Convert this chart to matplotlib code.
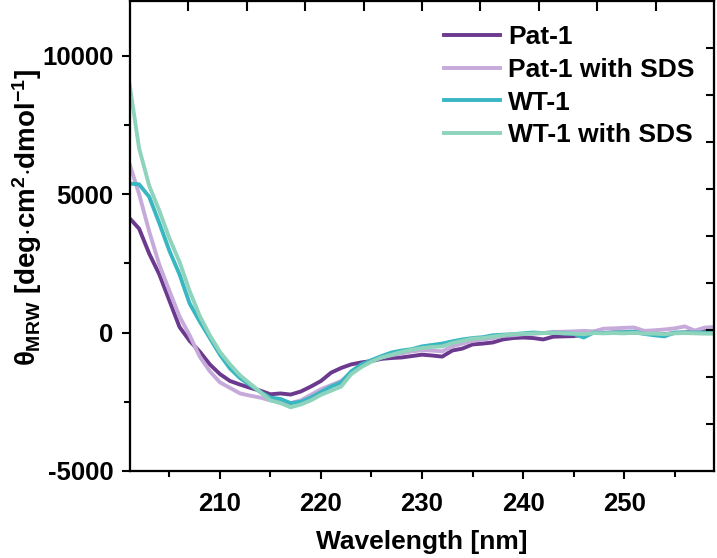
import matplotlib
matplotlib.use("Agg")
import matplotlib.pyplot as plt
import numpy as np
from matplotlib.ticker import MultipleLocator

plt.rcParams['font.family'] = ['Liberation Sans', 'DejaVu Sans']
plt.rcParams['font.weight'] = 'bold'
plt.rcParams['axes.unicode_minus'] = False
plt.rcParams['mathtext.fontset'] = 'custom'
plt.rcParams['mathtext.rm'] = 'Liberation Sans:bold'
plt.rcParams['mathtext.it'] = 'Liberation Sans:bold'
plt.rcParams['mathtext.bf'] = 'Liberation Sans:bold'
plt.rcParams['mathtext.sf'] = 'Liberation Sans:bold'

# wavelength grid (nm)
wavelength = np.arange(201, 260)

pat1 = [4150, 3750, 2850, 2100, 1150, 200, -300, -690, -1150, -1500,
        -1750, -1880, -2000, -2100, -2230, -2200, -2240, -2130, -1950, -1750,
        -1450, -1280, -1150, -1080, -1030, -950, -920, -900, -850, -800,
        -830, -870, -650, -580, -430, -400, -360, -250, -200, -180,
        -200, -250, -150, -140, -130, -80, 0, -20, 0, 0,
        0, -30, -60, -60, -20, 0, 20, 100, 110]

pat1_sds = [6150, 5000, 3650, 2450, 1500, 580, -100, -870, -1400, -1800,
            -2000, -2200, -2280, -2350, -2450, -2500, -2550, -2450, -2250, -2050,
            -1900, -1750, -1450, -1200, -1000, -900, -820, -750, -680, -640,
            -650, -680, -500, -400, -300, -250, -200, -120, -100, -60,
            -40, -20, 20, 30, 40, 60, 40, 140, 150, 170,
            180, 60, 80, 110, 150, 220, 70, 180, 200]

wt1 = [5380, 5350, 4900, 3950, 2950, 2100, 1050, 400, -200, -800,
       -1300, -1650, -1900, -2150, -2350, -2400, -2550, -2500, -2350, -2150,
       -1950, -1800, -1400, -1150, -1000, -850, -720, -650, -600, -500,
       -450, -400, -320, -250, -200, -170, -100, -80, -60, -30,
       0, -20, 0, -30, -50, -180, 0, -20, 0, 10,
       30, -50, -100, -140, 0, 0, 0, 0, 0]

wt1_sds = [9100, 6650, 5300, 4400, 3400, 2550, 1500, 600, -100, -700,
           -1150, -1550, -1850, -2150, -2450, -2550, -2700, -2600, -2450, -2250,
           -2100, -1950, -1500, -1250, -1050, -900, -800, -700, -620, -560,
           -520, -500, -380, -300, -220, -200, -150, -100, -60, -50,
           -30, -20, -10, -30, -40, -60, -20, -30, -20, -30,
           -10, -40, -40, -60, -30, -20, -30, -40, -40]

labels = ['Pat-1', 'Pat-1 with SDS', 'WT-1', 'WT-1 with SDS']
colors = ['#6b3a8e', '#c6aad9', '#38b6c2', '#8ed3bc']

fig = plt.figure(figsize=(7.17, 5.58), dpi=100)
ax = fig.add_axes([130 / 717, 1 - 471 / 558, 584 / 717, 470 / 558])

for series, lab, col in zip([pat1, pat1_sds, wt1, wt1_sds], labels, colors):
    ax.plot(wavelength, series, color=col, lw=2.8, label=lab)

ax.set_xlim(201.1, 258.9)
ax.set_ylim(-5000, 11970)
ax.xaxis.set_minor_locator(MultipleLocator(5))
ax.yaxis.set_minor_locator(MultipleLocator(2500))
ax.set_xticks([210, 220, 230, 240, 250])
ax.set_yticks([-5000, 0, 5000, 10000])

ax.tick_params(which='major', direction='out', length=6, width=1.5,
               labelsize=18.5, pad=6)
ax.tick_params(which='minor', direction='out', length=4, width=1.5)
ax.tick_params(axis='x', pad=9)
for sp in ax.spines.values():
    sp.set_linewidth(1.5)

# independent tick marks on top and right edges
axt = ax.twiny()
axt.set_xlim(0, 1)
axt.set_xticks(np.arange(1, 10) / 10)
axt.tick_params(axis='x', direction='in', length=7, width=1.5, labeltop=False)
axr = ax.twinx()
axr.set_ylim(0, 1)
axr.set_yticks(np.arange(1, 10) / 10)
axr.tick_params(axis='y', direction='in', length=6, width=1.5, labelright=False)
for a in (axt, axr):
    for sp in a.spines.values():
        sp.set_linewidth(1.5)

ax.set_xlabel('Wavelength [nm]', fontsize=19, fontweight='bold', labelpad=10)
ax.set_ylabel(r'$\theta_{MRW}$ [deg$\cdot$cm$^{2}$$\cdot$dmol$^{-1}$]',
              fontsize=20, fontweight='bold')
ax.yaxis.set_label_coords(-0.147, 0.54)

ax.legend(loc='upper right', frameon=False, fontsize=19,
          handlelength=2.15, handletextpad=0.3, labelspacing=0.33,
          borderaxespad=0, bbox_to_anchor=(0.985, 0.971))

fig.savefig('out.png', dpi=100, facecolor='white')
